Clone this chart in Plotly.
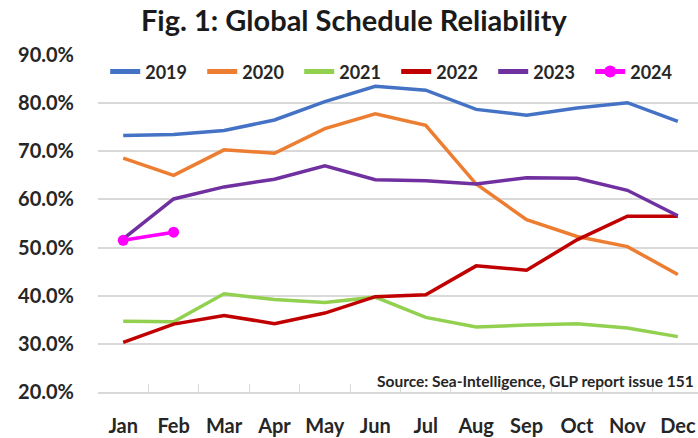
import plotly.graph_objects as go

months = ["Jan", "Feb", "Mar", "Apr", "May", "Jun", "Jul", "Aug", "Sep", "Oct", "Nov", "Dec"]
y2019 = [73.3, 73.5, 74.3, 76.5, 80.3, 83.5, 82.7, 78.7, 77.5, 79.0, 80.1, 76.2]
y2020 = [68.6, 65.0, 70.3, 69.6, 74.7, 77.8, 75.4, 63.2, 55.8, 52.3, 50.2, 44.4]
y2021 = [34.7, 34.6, 40.4, 39.2, 38.6, 39.7, 35.5, 33.5, 33.9, 34.2, 33.3, 31.5]
y2022 = [30.3, 34.1, 35.9, 34.2, 36.4, 39.8, 40.2, 46.2, 45.3, 51.6, 56.5, 56.5]
y2023 = [51.8, 60.1, 62.6, 64.2, 67.0, 64.1, 63.9, 63.2, 64.5, 64.4, 61.9, 56.6]
y2024 = [51.5, 53.2]

series = [
    ("2019", y2019, "#4472C4"),
    ("2020", y2020, "#ED7D31"),
    ("2021", y2021, "#92D050"),
    ("2022", y2022, "#C00000"),
    ("2023", y2023, "#7030A0"),
]

fig = go.Figure()
for name, vals, col in series:
    fig.add_trace(go.Scatter(x=months[:len(vals)], y=vals, name=name, mode="lines",
                             line=dict(color=col, width=3.5)))
fig.add_trace(go.Scatter(x=months[:len(y2024)], y=y2024, name="2024", mode="lines+markers",
                         line=dict(color="#FF00FF", width=3.5),
                         marker=dict(color="#FF00FF", size=11)))

font_family = "Lato, 'Open Sans', sans-serif"
fig.update_layout(
    width=698, height=438,
    margin=dict(l=98, r=0, t=55, b=46),
    paper_bgcolor="white", plot_bgcolor="white",
    title=dict(text="<b>Fig. 1: Global Schedule Reliability</b>", x=0.507, xanchor="center",
               y=0.952, yanchor="middle", font=dict(family=font_family, size=29, color="#1a1a1a")),
    font=dict(family=font_family, color="#262626"),
    legend=dict(orientation="h", x=0.012, y=0.95, xanchor="left", yanchor="middle",
                font=dict(size=18, family=font_family, color="#262626", weight="bold"),
                bgcolor="rgba(0,0,0,0)", entrywidth=52, tracegroupgap=0,
                traceorder="normal", itemsizing="constant"),
    showlegend=True,
)
fig.update_xaxes(type="category", range=[-0.5, 11.4], showgrid=False,
                 showline=True, linecolor="#D9D9D9", linewidth=1.5,
                 ticks="inside", tickson="boundaries", ticklen=8, tickcolor="#D9D9D9",
                 ticklabelstandoff=15,
                 tickfont=dict(size=20, family=font_family, color="#262626", weight="bold"))
fig.update_yaxes(range=[20, 90], dtick=10, tickformat=".1f", ticksuffix="%",
                 showgrid=True, gridcolor="#D9D9D9", gridwidth=1.5, zeroline=False,
                 showline=False, ticks="", ticklabelstandoff=23,
                 tickfont=dict(size=20, family=font_family, color="#262626", weight="bold"))
fig.add_annotation(text="<b>Source: Sea-Intelligence, GLP report issue 151</b>",
                   xref="paper", yref="y", x=0.996, y=22.2, xanchor="right", yanchor="middle",
                   showarrow=False, font=dict(size=15.5, family=font_family, color="#262626"))
fig.write_html("out.html", config={"displayModeBar": False},
               post_script="document.body.style.margin='0';document.body.style.overflow='hidden';")
